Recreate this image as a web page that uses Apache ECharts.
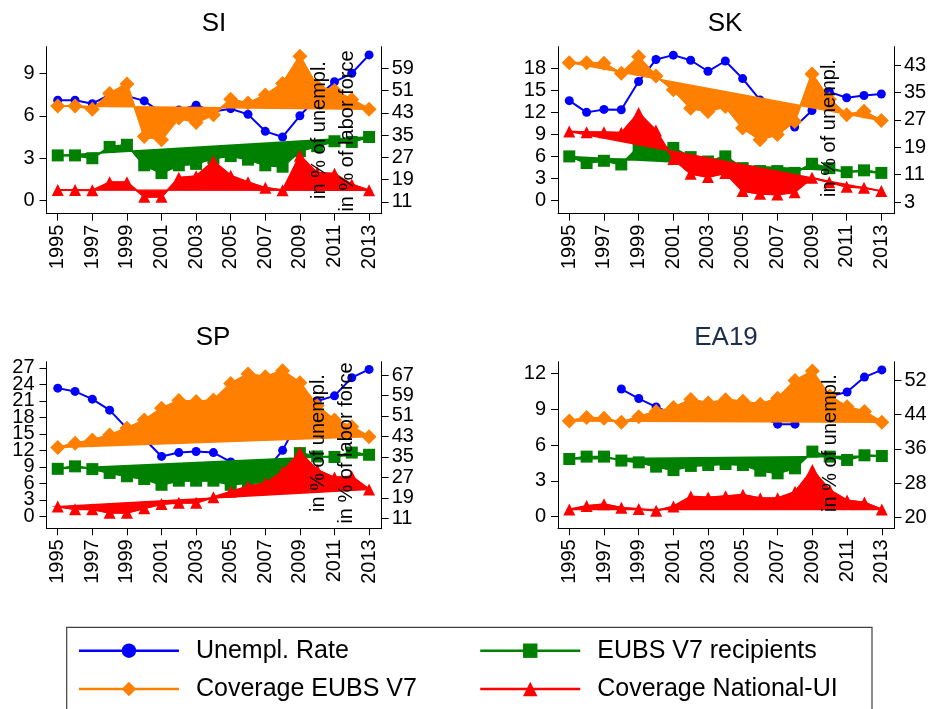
<!DOCTYPE html>
<html><head><meta charset="utf-8">
<script src="https://cdn.jsdelivr.net/npm/echarts@6/dist/echarts.min.js"></script>
<style>html,body{margin:0;padding:0;background:#fff}#c{width:928px;height:709px}</style>
</head><body><div id="c"></div>
<script>
// ---------- data ----------
const years = [1995,1996,1997,1998,1999,2000,2001,2002,2003,2004,2005,2006,2007,2008,2009,2010,2011,2012,2013];
const xTicks = [1995,1997,1999,2001,2003,2005,2007,2009,2011,2013];

const siUnemp   = [7.1,7.1,6.85,7.5,7.4,7.05,6.2,6.4,6.75,6.3,6.5,6.1,4.9,4.5,6.0,7.3,8.4,9.0,10.3];
const siCovEubs = [45.5,45.5,44.3,50.0,53.4,34.5,33.3,41.1,39.5,42.3,47.9,46.5,49.4,53.6,63.4,52.5,51.0,47.8,44.3];
const siRecip   = [3.2,3.2,3.0,3.8,3.95,2.5,1.95,2.5,2.6,3.0,3.15,2.9,2.5,2.4,3.5,3.85,4.2,4.15,4.5];
const siCovNat  = [15.2,15.2,15.1,18.0,18.0,12.8,12.8,19.6,20.2,25.6,20.4,18.0,16.0,15.1,27.6,21.4,21.1,17.2,15.1];

const skUnemp   = [13.6,12.0,12.4,12.35,16.2,19.2,19.8,19.1,17.6,19.0,16.6,13.7,11.2,10.0,12.25,14.8,14.0,14.3,14.5];
const skCovEubs = [43.7,43.7,43.5,40.6,45.4,39.8,35.75,30.4,29.45,30.9,24.6,21.2,22.7,26.5,40.4,33.0,28.5,29.5,26.8];
const skRecip   = [6.0,5.1,5.4,4.9,7.3,7.3,7.15,5.9,5.3,6.0,4.4,4.0,4.0,3.75,5.0,4.4,3.85,4.1,3.75];
const skCovNat  = [23.6,23.4,23.4,23.2,29.0,23.9,15.6,11.3,10.3,11.5,6.2,5.4,5.2,5.9,10.1,8.8,7.5,7.2,6.2];

const spUnemp   = [23.3,22.7,21.3,19.3,16.0,14.1,10.9,11.6,11.8,11.6,9.9,8.5,8.25,12.0,18.0,20.95,21.9,25.2,26.7];
const spCovEubs = [38.7,40.3,41.6,43.6,46.2,49.4,54.0,57.0,56.6,57.2,63.7,67.4,66.3,68.7,64.0,55.0,49.4,46.8,42.9];
const spRecip   = [8.65,9.1,8.6,7.9,7.3,6.8,5.75,6.5,6.5,6.5,5.75,6.1,6.1,8.0,11.5,10.9,10.8,11.6,11.2];
const spCovNat  = [15.6,14.5,14.5,13.2,13.2,14.9,16.6,17.1,17.1,19.2,21.4,23.4,24.7,29.2,36.7,29.9,26.9,27.3,22.3];

const eaUnemp   = [null,null,null,10.7,9.9,9.2,8.6,8.8,9.2,9.3,9.1,8.4,7.75,7.75,9.6,10.1,10.45,11.7,12.3];
const eaCovEubs = [42.5,43.3,43.1,42.2,43.5,44.7,45.6,47.5,46.7,47.4,47.1,46.4,47.8,51.9,54.1,48.3,45.8,44.7,42.2];
const eaRecip   = [4.83,5.03,5.03,4.7,4.55,4.19,3.9,4.25,4.33,4.41,4.33,3.85,3.63,4.05,5.45,5.03,4.75,5.14,5.08];
const eaCovNat  = [21.9,22.7,23.1,22.3,22.0,21.6,22.6,24.9,24.7,25.0,25.3,24.5,24.5,26.0,31.1,26.4,24.0,23.5,21.9];

const siLeftTicks = [0,3,6,9];           const siRightTicks = [11,19,27,35,43,51,59];
const skLeftTicks = [0,3,6,9,12,15,18];  const skRightTicks = [3,11,19,27,35,43];
const spLeftTicks = [0,3,6,9,12,15,18,21,24,27]; const spRightTicks = [11,19,27,35,43,51,59,67];
const eaLeftTicks = [0,3,6,9,12];        const eaRightTicks = [20,28,36,44,52];

const seriesNames = ['Unempl. Rate','Coverage EUBS V7','EUBS V7 recipients','Coverage National-UI'];
const panelTitles = ['SI','SK','SP','EA19'];

// ---------- layout / style ----------
const FONT = 'Liberation Sans, Arial, sans-serif';
const COL = {blue:'#0000ff', orange:'#ff7f00', green:'#008000', red:'#ff0000'};
const X_MIN = 1994.35, X_MAX = 2013.73;

const panels = [
  {title:panelTitles[0], tColor:'#000', u:siUnemp, ce:siCovEubs, r:siRecip, cn:siCovNat, lt:siLeftTicks, rt:siRightTicks,
   lr:[-0.92,10.88], rr:[6.7,66.8], grid:{left:46.5,top:46.7,width:335.2,height:167}, tx:214, ty:24,
   names:[['in % of unempl.',319,130],['in % of labor force',347,131]]},
  {title:panelTitles[1], tColor:'#000', u:skUnemp, ce:skCovEubs, r:skRecip, cn:skCovNat, lt:skLeftTicks, rt:skRightTicks,
   lr:[-1.81,20.95], rr:[-0.39,48.35], grid:{left:558,top:46.7,width:336,height:167}, tx:725, ty:24,
   names:[['in % of unempl.',829,128]]},
  {title:panelTitles[2], tColor:'#000', u:spUnemp, ce:spCovEubs, r:spRecip, cn:spCovNat, lt:spLeftTicks, rt:spRightTicks,
   lr:[-2.15,28.1], rr:[7.09,72.2], grid:{left:46.5,top:361.7,width:335.2,height:166.6}, tx:213, ty:338,
   names:[['in % of unempl.',318,443],['in % of labor force',346,443]], splitLeft:true},
  {title:panelTitles[3], tColor:'#1e2c4f', u:eaUnemp, ce:eaCovEubs, r:eaRecip, cn:eaCovNat, lt:eaLeftTicks, rt:eaRightTicks,
   lr:[-0.98,12.99], rr:[17.52,56.28], grid:{left:558,top:361.7,width:336.5,height:166.6}, tx:726, ty:338,
   names:[['in % of unempl.',830,443]]}
];

function pairs(vals){ return years.map((y,k)=>[y, vals[k]]).filter(d=>d[1]!=null); }

function areaSeries(name, xi, yi, vals, color, z){
  const data = pairs(vals);
  return {
    type:'custom', name:name+' (area)', xAxisIndex:xi, yAxisIndex:yi, data, z, silent:true, clip:false,
    encode:{x:0,y:1},
    renderItem(params, api){
      if (params.dataIndex !== 0) return null;
      const pts = data.map(d=>api.coord(d));
      return {type:'polygon', shape:{points:pts}, style:{fill:color, stroke:color, lineWidth:1.5}};
    }
  };
}
function lineSeries(name, xi, yi, vals, color, symbol, size, z){
  return {
    type:'line', name, xAxisIndex:xi, yAxisIndex:yi, data:pairs(vals), z,
    symbol, symbolSize:size, showSymbol:true, showAllSymbol:true,
    lineStyle:{color, width:2}, itemStyle:{color, borderWidth:0}, emphasis:{disabled:true}, clip:false
  };
}

const grid=[], xAxis=[], yAxis=[], extraY=[], series=[], title=[], gElems=[];
const axisLbl = {color:'#000', fontSize:20, fontFamily:FONT, hideOverlap:false, showMinLabel:true, showMaxLabel:true};
panels.forEach((p,i)=>{
  grid.push(Object.assign({containLabel:false, outerBoundsMode:'none'}, p.grid));
  xAxis.push({type:'value', gridIndex:i, min:X_MIN, max:X_MAX,
    axisLine:{show:true,onZero:false,lineStyle:{color:'#000',width:1}},
    axisTick:{show:true,length:7,customValues:xTicks,lineStyle:{color:'#000'}},
    axisLabel:Object.assign({rotate:90,margin:11,customValues:xTicks,formatter:v=>String(Math.round(v))},axisLbl),
    splitLine:{show:false}});
  // crowded left axes: labels split over two overlaid axes so none gets dropped
  const leftLabels = p.splitLeft ? p.lt.filter((v,k)=>k%2===0) : p.lt;
  yAxis.push({type:'value', gridIndex:i, position:'left', min:p.lr[0], max:p.lr[1],
    axisLine:{show:true,onZero:false,lineStyle:{color:'#000',width:1}},
    axisTick:{show:true,length:7,customValues:p.lt,lineStyle:{color:'#000'}},
    axisLabel:Object.assign({margin:12,customValues:leftLabels},axisLbl),
    splitLine:{show:false}});
  yAxis.push({type:'value', gridIndex:i, position:'right', min:p.rr[0], max:p.rr[1],
    axisLine:{show:true,onZero:false,lineStyle:{color:'#000',width:1}},
    axisTick:{show:true,length:7,customValues:p.rt,lineStyle:{color:'#000'}},
    axisLabel:Object.assign({margin:10,customValues:p.rt},axisLbl),
    splitLine:{show:false}});
  if (p.splitLeft) {
    extraY.push({type:'value', gridIndex:i, position:'left', offset:0, min:p.lr[0], max:p.lr[1],
      axisLine:{show:false,onZero:false}, axisTick:{show:false},
      axisLabel:Object.assign({margin:12,customValues:p.lt.filter((v,k)=>k%2===1)},axisLbl),
      splitLine:{show:false}});
  }
  const yl = 2*i, yr = 2*i+1;
  series.push(lineSeries(seriesNames[0], i, yl, p.u, COL.blue, 'circle', 9, 1));
  series.push(areaSeries(seriesNames[1], i, yr, p.ce, COL.orange, 2));
  series.push(lineSeries(seriesNames[1], i, yr, p.ce, COL.orange, 'diamond', 15, 3));
  series.push(areaSeries(seriesNames[2], i, yl, p.r, COL.green, 4));
  series.push(lineSeries(seriesNames[2], i, yl, p.r, COL.green, 'rect', 12, 5));
  series.push(areaSeries(seriesNames[3], i, yr, p.cn, COL.red, 6));
  series.push(lineSeries(seriesNames[3], i, yr, p.cn, COL.red, 'triangle', 12, 7));
  title.push({text:p.title, left:p.tx, top:p.ty, textAlign:'center', textVerticalAlign:'middle', padding:0,
    textStyle:{fontSize:26, fontWeight:'normal', color:p.tColor, fontFamily:FONT}});
  p.names.forEach(n=>{
    gElems.push({type:'text', x:n[1], y:n[2], rotation:Math.PI/2, z:100,
      style:{text:n[0], fontSize:20, fontFamily:FONT, fill:'#000', align:'center', verticalAlign:'middle'}});
  });
});
extraY.forEach(a=>yAxis.push(a));
gElems.push({type:'rect', z:-1, shape:{x:66.7,y:627.3,width:805.3,height:100},
  style:{fill:'#fff', stroke:'#404040', lineWidth:1.2}});

const legendCommon = {orient:'vertical', top:636.7, padding:0, itemWidth:100, itemHeight:18, itemGap:10.3,
  selectedMode:false, lineStyle:{width:2.5},
  textStyle:{fontSize:25, fontFamily:FONT, color:'#000', lineHeight:28, padding:[0,0,0,12]}};

const option = {
  animation:false, backgroundColor:'#fff',
  textStyle:{fontFamily:FONT},
  title, grid, xAxis, yAxis, series,
  legend:[
    Object.assign({left:77.7, data:[seriesNames[0], seriesNames[1]]}, legendCommon),
    Object.assign({left:479, data:[seriesNames[2], seriesNames[3]]}, legendCommon)
  ],
  graphic:{elements:gElems}
};
const chart = echarts.init(document.getElementById('c'), null, {renderer:'canvas'});
chart.setOption(option);
</script></body></html>
